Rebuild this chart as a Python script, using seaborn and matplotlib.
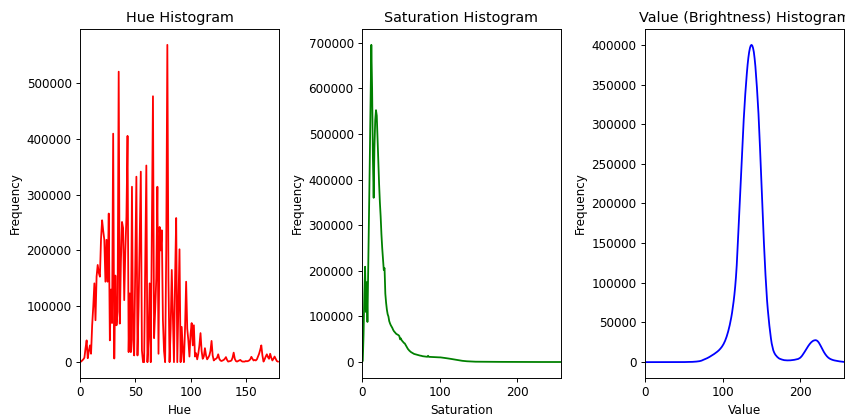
import numpy as np
import pandas as pd
import matplotlib
matplotlib.use("Agg")
import matplotlib.pyplot as plt
import seaborn as sns

# ---- data ----
hue_freq = [
    2000, 1000, 3000, 5000, 8000, 25000, 39000, 7000, 20000, 30000,
    15000, 66000, 100000, 141000, 75000, 153000, 174000, 160000, 153000, 220000,
    254000, 235000, 219000, 144000, 219000, 144000, 266000, 39000, 130000, 70000,
    409000, 6500, 155000, 66000, 90000, 520000, 69000, 180000, 251000, 240000,
    111000, 200000, 260000, 405000, 18000, 123000, 18000, 314000, 40000, 12000,
    180000, 332000, 12000, 100000, 220000, 341000, 21000, 0, 0, 180000,
    352000, 0, 40000, 141000, 0, 250000, 476000, 43000, 93000, 150000,
    314000, 15000, 242000, 200000, 236000, 75000, 20000, 0, 200000, 568000,
    150000, 0, 60000, 165000, 81000, 0, 150000, 258000, 0, 100000,
    202000, 0, 63000, 20000, 0, 60000, 144000, 60000, 39000, 10000,
    50000, 70000, 30000, 66000, 10000, 16000, 5000, 15000, 30000, 52000,
    20000, 6000, 10000, 25000, 12000, 5000, 8000, 12000, 20000, 38000,
    12000, 3000, 5000, 6000, 8000, 14000, 6000, 3000, 2000, 3000,
    4000, 6000, 9000, 4000, 1000, 1500, 2000, 3000, 8000, 17000,
    6000, 2000, 1000, 2000, 3000, 4000, 2000, 1000, 1000, 1000,
    2000, 1500, 2000, 3000, 5000, 9500, 6000, 3000, 4000, 3000,
    5000, 10000, 15000, 22000, 30000, 12000, 1000, 5000, 10000, 14000,
    9000, 6000, 15000, 8000, 3000, 6000, 10000, 6000, 2000, 1000,
]

sat_freq = [
    0, 3000, 60000, 150000, 209000, 110000, 175000, 88000, 200000, 320000,
    440000, 570000, 695000, 600000, 450000, 360000, 470000, 530000, 552000, 540000,
    490000, 440000, 390000, 350000, 319000, 280000, 250000, 225000, 202000, 206000,
    150000, 130000, 115000, 105000, 100000, 90000, 85000, 81000, 78000, 75000,
    71000, 68000, 66000, 64000, 62000, 61000, 60000, 59000, 57000, 50000,
    52000, 48000, 46000, 44000, 42000, 41000, 38000, 35000, 32000, 29000,
    27000, 25000, 23500, 22000, 21000, 20000, 19000, 18000, 17500, 17000,
    16500, 16000, 15500, 15000, 14500, 14200, 14000, 13500, 13000, 12800,
    12500, 12200, 12000, 11800, 11700, 14000, 11600, 11500, 11400, 11300,
    11200, 11100, 11000, 10900, 10800, 10700, 10700, 10600, 10600, 10500,
    10500, 10400, 10200, 10000, 9800, 9500, 9200, 9000, 8700, 8400,
    8100, 8000, 7800, 7500, 7200, 6900, 6600, 6300, 6100, 5900,
    5600, 5300, 5000, 4700, 4400, 4100, 3800, 3500, 3200, 2900,
    2700, 2400, 2200, 2100, 2000, 1900, 1800, 1700, 1600, 1500,
    1400, 1350, 1300, 1200, 1100, 1000,
    980, 960, 940, 920, 900, 880, 860, 840, 820, 800,
    790, 780, 770, 760, 750, 740, 730, 720, 710, 700,
    690, 680, 670, 660, 650, 640, 630, 620, 610, 600,
    590, 580, 570, 560, 550, 540, 530, 520, 510, 500,
    495, 490, 485, 480, 475, 470, 465, 460, 455, 450,
    445, 440, 435, 430, 425, 420, 415, 410, 405, 400,
    395, 390, 385, 380, 375, 370, 365, 360, 355, 350,
    345, 340, 335, 330, 325, 320, 315, 310, 305, 300,
    300, 300, 300, 300, 300, 300, 300, 300, 300, 300,
    290, 290, 290, 290, 290, 290, 290, 290, 290, 290,
    280, 280, 280, 280, 280, 280, 280, 280, 280, 280,
]

val_freq = [
    0, 0, 0, 0, 0, 0, 0, 0, 0, 0,
    0, 0, 0, 0, 0, 0, 0, 0, 0, 0,
    0, 0, 0, 0, 0, 0, 0, 0, 0, 0,
    0, 0, 0, 0, 0, 0, 0, 0, 0, 0,
    50, 50, 50, 50, 50, 50, 50, 50, 50, 50,
    100, 100, 150, 150, 200, 200, 250, 250, 300, 300,
    300, 350, 400, 450, 500, 600, 700, 800, 900, 1000,
    1200, 1400, 1700, 2000, 2500, 2900, 3300, 3700, 4000, 4500,
    5000, 5500, 6000, 6600, 7200, 7900, 8500, 9100, 9700, 10300,
    11000, 11700, 12400, 13200, 14000, 14900, 15900, 17000, 18200, 19500,
    21000, 22700, 24600, 26800, 29300, 32100, 35200, 38700, 42500, 46700,
    51300, 56500, 62300, 69000, 76500, 85000, 95000, 107000, 122000, 141000,
    162000, 183000, 204000, 225000, 246000, 267000, 287000, 306000, 323000, 338000,
    352000, 364000, 375000, 384000, 391000, 396000, 399000, 400000, 399000, 396000,
    391000, 383000, 373000, 360000, 346000, 330000, 313000, 292000, 269000, 245000,
    221000, 197000, 173000, 150000, 129000, 110000, 93000, 78000, 66000, 56000,
    46000, 38000, 30000, 23500, 19000, 15000, 12500, 10500, 9000, 7800,
    6700, 5800, 5000, 4400, 4000, 3600, 3300, 3000, 2700, 2500,
    2400, 2300, 2200, 2200, 2200, 2200, 2200, 2300, 2400, 2500,
    2600, 2700, 2900, 3100, 3200, 3400, 3700, 4000, 4500, 5100,
    5800, 6800, 8000, 9400, 10900, 12400, 14000, 15600, 17200, 18800,
    20300, 21700, 23000, 24200, 25200, 26000, 26700, 27200, 27500, 27700,
    27600, 27200, 26500, 25400, 24000, 22300, 20500, 18600, 16700, 14800,
    13000, 11400, 9900, 8600, 7400, 6400, 5500, 4800, 4200, 3700,
    3300, 2900, 2600, 2300, 2100, 1900, 1700, 1500, 1300, 1100,
    1000, 900, 800, 600, 500, 400,
]

titles = ["Hue Histogram", "Saturation Histogram", "Value (Brightness) Histogram"]
xlabels = ["Hue", "Saturation", "Value"]
colors = ["red", "green", "blue"]
xlims = [180, 256, 256]

series = [hue_freq, sat_freq, val_freq]

DPI = 86
W, H = 845, 416
fig = plt.figure(figsize=(W / DPI, H / DPI), dpi=DPI)
lefts = [80, 362, 645]
ax_w = 199
top, bottom = 29, 378

for i, (vals, title, xl, c, xm) in enumerate(zip(series, titles, xlabels, colors, xlims)):
    ax = fig.add_axes([lefts[i] / W, 1 - bottom / H, ax_w / W, (bottom - top) / H])
    df = pd.DataFrame({"bin": np.arange(len(vals)), "freq": vals})
    sns.lineplot(data=df, x="bin", y="freq", color=c, ax=ax, linewidth=1.5)
    ax.set_xlim(0, xm)
    ax.set_title(title, fontsize=12)
    ax.set_xlabel(xl)
    ax.set_ylabel("Frequency")

fig.savefig("out.png", dpi=DPI)
